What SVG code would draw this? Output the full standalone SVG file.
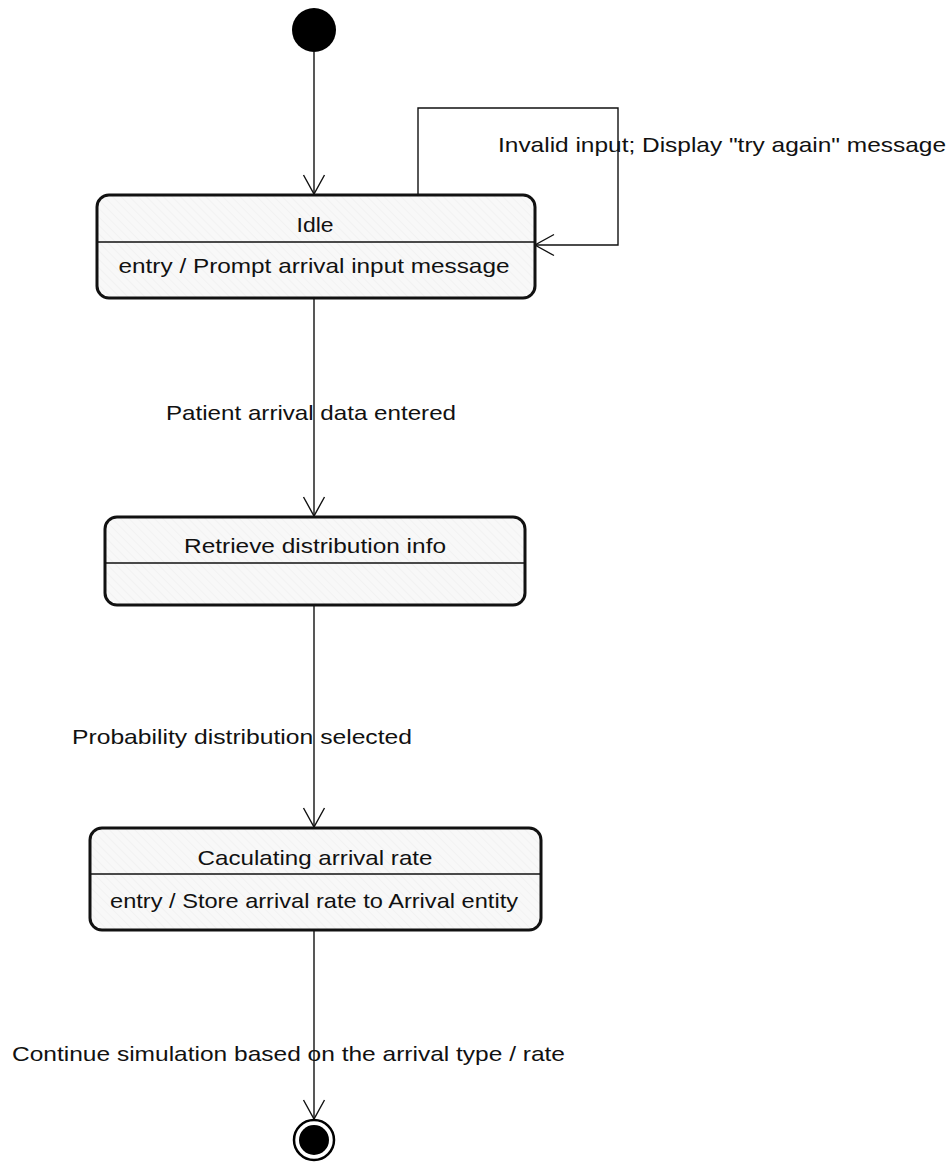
<svg xmlns="http://www.w3.org/2000/svg" width="951" height="1166" viewBox="0 0 951 1166">
  <style>
    .state { fill: url(#hatch); stroke: #111; stroke-width: 3; }
    .divider { stroke: #111; stroke-width: 1.6; }
    .edge { fill: none; stroke: #111; stroke-width: 1.4; }
    text { font-family: "Liberation Sans", Arial, sans-serif; font-size: 21px; fill: #111; }
    .c { text-anchor: middle; }
  </style>
  <defs>
    <pattern id="hatch" patternUnits="userSpaceOnUse" width="6" height="6" patternTransform="rotate(-45)">
      <rect width="6" height="6" fill="#f8f8f8"/>
      <line x1="0" y1="0" x2="0" y2="6" stroke="#ececec" stroke-width="1"/>
    </pattern>
    <marker id="open" markerUnits="userSpaceOnUse" markerWidth="24" markerHeight="24" viewBox="-20 -12 24 24" refX="0" refY="0" orient="auto">
      <path d="M -19,-10.5 L 0,0 L -19,10.5" fill="none" stroke="#111" stroke-width="1.4"/>
    </marker>
  </defs>

  <!-- transitions -->
  <g id="connectors">
    <line class="edge" x1="314" y1="52" x2="314" y2="194" marker-end="url(#open)"/>
    <polyline class="edge" points="418,194 418,108 618,108 618,245 535,245" marker-end="url(#open)"/>
    <line class="edge" x1="314" y1="298" x2="314" y2="516" marker-end="url(#open)"/>
    <line class="edge" x1="314" y1="605" x2="314" y2="827" marker-end="url(#open)"/>
    <line class="edge" x1="314" y1="930" x2="314" y2="1119" marker-end="url(#open)"/>
    <text x="498" y="152" textLength="448" lengthAdjust="spacingAndGlyphs">Invalid input; Display "try again" message</text>
    <text x="166" y="420" textLength="290" lengthAdjust="spacingAndGlyphs">Patient arrival data entered</text>
    <text x="72" y="744" textLength="340" lengthAdjust="spacingAndGlyphs">Probability distribution selected</text>
    <text x="12" y="1061" textLength="553" lengthAdjust="spacingAndGlyphs">Continue simulation based on the arrival type / rate</text>
  </g>

  <!-- initial pseudo-state -->
  <g id="initial">
    <circle cx="314" cy="30" r="22" fill="#000"/>
  </g>

  <!-- Idle state -->
  <g id="idle">
    <rect class="state" x="97" y="195" width="438" height="103" rx="12" ry="12"/>
    <line class="divider" x1="97" y1="242" x2="535" y2="242"/>
    <text class="c" x="315" y="232" textLength="37" lengthAdjust="spacingAndGlyphs">Idle</text>
    <text class="c" x="314" y="273" textLength="391" lengthAdjust="spacingAndGlyphs">entry / Prompt arrival input message</text>
  </g>

  <!-- Retrieve distribution info state -->
  <g id="retrieve">
    <rect class="state" x="105" y="517" width="420" height="88" rx="12" ry="12"/>
    <line class="divider" x1="105" y1="563" x2="525" y2="563"/>
    <text class="c" x="315" y="553" textLength="262" lengthAdjust="spacingAndGlyphs">Retrieve distribution info</text>
  </g>

  <!-- Calculating arrival rate state -->
  <g id="calculating">
    <rect class="state" x="90" y="828" width="451" height="102" rx="12" ry="12"/>
    <line class="divider" x1="90" y1="874" x2="541" y2="874"/>
    <text class="c" x="315" y="865" textLength="235" lengthAdjust="spacingAndGlyphs">Caculating arrival rate</text>
    <text class="c" x="314" y="908" textLength="408" lengthAdjust="spacingAndGlyphs">entry / Store arrival rate to Arrival entity</text>
  </g>

  <!-- final state -->
  <g id="final">
    <circle cx="314" cy="1140" r="20" fill="#fff" stroke="#000" stroke-width="2.5"/>
    <circle cx="314" cy="1140" r="15" fill="#000"/>
  </g>
</svg>
